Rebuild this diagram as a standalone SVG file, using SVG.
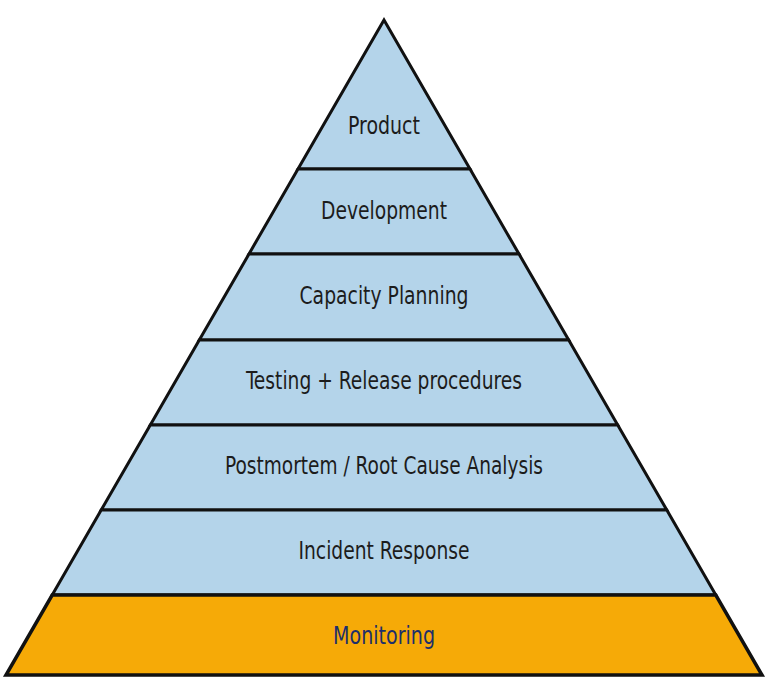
<svg xmlns="http://www.w3.org/2000/svg" width="768" height="698" viewBox="0 0 768 698">
<style>
.layer{fill:#b4d4ea;stroke:#111;stroke-width:3;stroke-linejoin:miter}
.base{fill:#f6aa07;stroke:#111;stroke-width:3.5;stroke-linejoin:miter}
.lbl{font-family:"Liberation Sans Narrow","DejaVu Sans Condensed","Liberation Sans",sans-serif;font-size:25px;fill:#1c1c1c;text-anchor:middle}
.lbl2{fill:#1d2f6b}
</style>
<rect width="768" height="698" fill="#ffffff"/>
<g id="product">
<polygon class="layer" points="384,20 470,169 298,169"/>
<text class="lbl" x="384" y="134" textLength="72" lengthAdjust="spacingAndGlyphs">Product</text>
</g>
<g id="development">
<polygon class="layer" points="298,169 470,169 519,254 249,254"/>
<text class="lbl" x="384" y="219" textLength="126" lengthAdjust="spacingAndGlyphs">Development</text>
</g>
<g id="capacity-planning">
<polygon class="layer" points="249,254 519,254 568.7,340 199.3,340"/>
<text class="lbl" x="384" y="304" textLength="169" lengthAdjust="spacingAndGlyphs">Capacity Planning</text>
</g>
<g id="testing-release">
<polygon class="layer" points="199.3,340 568.7,340 617.7,425 150.3,425"/>
<text class="lbl" x="384" y="389" textLength="276" lengthAdjust="spacingAndGlyphs">Testing + Release procedures</text>
</g>
<g id="postmortem">
<polygon class="layer" points="150.3,425 617.7,425 666.8,510 101.2,510"/>
<text class="lbl" x="384" y="474" textLength="318" lengthAdjust="spacingAndGlyphs">Postmortem / Root Cause Analysis</text>
</g>
<g id="incident-response">
<polygon class="layer" points="101.2,510 666.8,510 715.8,595 52.2,595"/>
<text class="lbl" x="384" y="559" textLength="171" lengthAdjust="spacingAndGlyphs">Incident Response</text>
</g>
<g id="monitoring">
<polygon class="base" points="52.2,595 715.8,595 762,675 6,675"/>
<text class="lbl lbl2" x="384" y="644" textLength="102" lengthAdjust="spacingAndGlyphs">Monitoring</text>
</g>
</svg>
